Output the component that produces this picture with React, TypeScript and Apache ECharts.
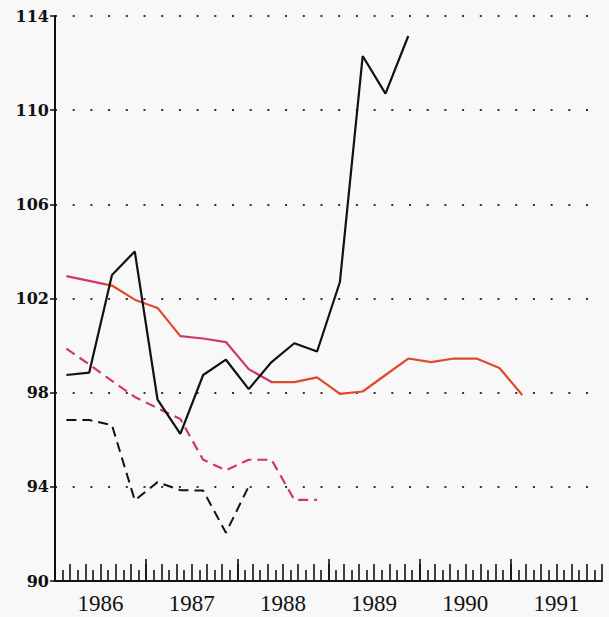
import React, { useEffect, useRef } from "react";
import * as echarts from "echarts";

// Quarterly observations, each series starts in 1986 Q1
const startYear = 1986;
const blackSolid = [98.75, 98.85, 103.0, 104.0, 97.7, 96.25, 98.75, 99.4, 98.15, 99.3, 100.1, 99.75, 102.7, 112.3, 110.7, 113.15];
const redSolid = [102.95, 102.75, 102.55, 101.95, 101.6, 100.4, 100.3, 100.15, 99.0, 98.45, 98.45, 98.65, 97.95, 98.05, 98.75, 99.45, 99.3, 99.45, 99.45, 99.05, 97.9];
const pinkDashed = [99.87, 99.2, 98.5, 97.82, 97.34, 96.88, 95.15, 94.7, 95.15, 95.15, 93.45, 93.45];
const blackDashed = [96.84, 96.84, 96.62, 93.43, 94.2, 93.86, 93.84, 92.05, 94.02];
const yearLabels = ["1986", "1987", "1988", "1989", "1990", "1991"];
const yTicks = [90, 94, 98, 102, 106, 110, 114];

const toPoints = (vals: number[]) =>
  vals.map((v, i) => [startYear + (i + 0.5) / 4, v]);

export default function App() {
  const ref = useRef<HTMLDivElement>(null);
  useEffect(() => {
    document.body.style.margin = "0";
    const chart = echarts.init(ref.current!, null, { renderer: "svg" });
    const pink = "#d3356b";
    const orange = "#e0482c";
    chart.setOption({
      animation: false,
      backgroundColor: "#f8f8f8",
      grid: { left: 55, top: 16, width: 547, height: 565, containLabel: false },
      xAxis: [
        {
          type: "value",
          min: 1986,
          max: 1992,
          interval: 0.5,
          axisLine: { show: true, lineStyle: { color: "#111", width: 2 } },
          axisTick: { show: false },
          splitLine: { show: false },
          axisLabel: {
            margin: 11,
            color: "#111",
            fontFamily: "Liberation Serif",
            fontSize: 23,
            formatter: (v: number) => {
              const idx = Math.floor(v) - 1986;
              return Math.abs(v - Math.floor(v) - 0.5) < 1e-6 && yearLabels[idx] ? yearLabels[idx] : "";
            },
          },
        },
        {
          type: "value",
          min: 0,
          max: 72,
          interval: 2,
          position: "bottom",
          axisLine: { show: false },
          axisLabel: { show: false },
          splitLine: { show: false },
          axisTick: { show: true, inside: true, length: 17, lineStyle: { color: "#111", width: 1.6 } },
          minorTick: { show: true, splitNumber: 2, length: 11, lineStyle: { color: "#111", width: 1.6 } },
          minorSplitLine: { show: false },
        },
        {
          type: "value",
          min: 0,
          max: 6,
          interval: 1,
          position: "bottom",
          axisLine: { show: false },
          axisLabel: { show: false },
          splitLine: { show: false },
          axisTick: {
            show: true,
            inside: true,
            length: 22,
            customValues: [0, 1, 2, 3, 4, 5],
            lineStyle: { color: "#111", width: 1.6 },
          },
        },
      ],
      yAxis: {
        type: "value",
        min: yTicks[0],
        max: yTicks[yTicks.length - 1],
        interval: 4,
        axisLine: { show: true, lineStyle: { color: "#111", width: 2 } },
        axisTick: { show: true, length: 5, lineStyle: { color: "#111", width: 1.5 } },
        axisLabel: {
          margin: 6,
          color: "#111",
          fontFamily: "DejaVu Serif",
          fontWeight: "bold",
          fontSize: 16,
        },
        splitLine: {
          show: true,
          lineStyle: { color: "#333", width: 2, type: [2, 15.7] },
        },
      },
      visualMap: {
        type: "piecewise",
        show: false,
        seriesIndex: 1,
        dimension: 0,
        pieces: [
          { lt: 1986.55, color: pink },
          { gte: 1986.55, lt: 1987.37, color: orange },
          { gte: 1987.37, lt: 1988.38, color: pink },
          { gte: 1988.38, color: orange },
        ],
      },
      series: [
        {
          type: "line",
          data: toPoints(blackSolid),
          showSymbol: false,
          lineStyle: { color: "#111", width: 2.2 },
          z: 4,
        },
        {
          type: "line",
          data: toPoints(redSolid),
          showSymbol: false,
          lineStyle: { width: 2.2 },
          z: 3,
        },
        {
          type: "line",
          data: toPoints(pinkDashed),
          showSymbol: false,
          lineStyle: { color: pink, width: 2.2, type: [10, 6] },
          z: 3,
        },
        {
          type: "line",
          data: toPoints(blackDashed),
          showSymbol: false,
          lineStyle: { color: "#111", width: 2, type: [10, 6] },
          z: 3,
        },
      ],
    });
    return () => chart.dispose();
  }, []);
  return <div ref={ref} style={{ width: 609, height: 617 }} />;
}
